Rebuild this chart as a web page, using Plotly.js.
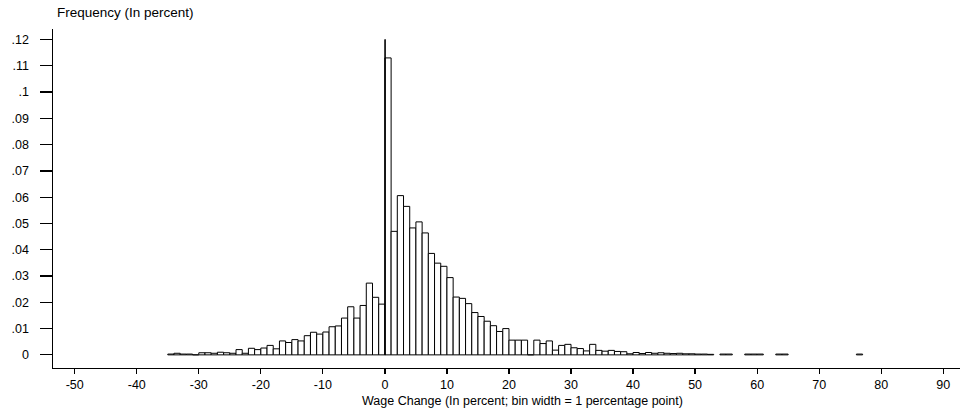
<!DOCTYPE html>
<html>
<head>
<meta charset="utf-8">
<script src="https://cdn.plot.ly/plotly-3.0.1.min.js"></script>
<style>html,body{margin:0;padding:0;background:#fff;}#chart{width:960px;height:410px;}</style>
</head>
<body>
<div id="chart"></div>
<script>
// Left edges of 1-point bins (wage change, percent)
const binStart = [-35,-34,-33,-32,-31,-30,-29,-28,-27,-26,-25,-24,-23,-22,-21,-20,-19,-18,-17,-16,-15,-14,-13,-12,-11,-10,-9,-8,-7,-6,-5,-4,-3,-2,-1,
  0,1,2,3,4,5,6,7,8,9,10,11,12,13,14,15,16,17,18,19,20,21,22,23,24,25,26,27,28,29,30,31,32,33,34,35,36,37,38,39,40,41,42,43,44,45,46,47,48,49,50,51,52,
  54,55,58,59,60,63,64,76];
// Frequency of each bin
const frequency = [0.0003,0.0006,0.0003,0.0003,0,0.0008,0.0008,0.0006,0.001,0.0008,0.0006,0.002,0.0006,0.0025,0.002,0.0026,0.0036,0.0023,0.0053,0.0047,0.0058,0.0053,0.0073,0.0086,0.0079,0.0087,0.0107,0.011,0.014,0.0183,0.014,0.0188,0.0273,0.0219,0.0193,
  0.113,0.047,0.0606,0.0565,0.0483,0.0506,0.0464,0.0386,0.0349,0.0337,0.0294,0.022,0.0215,0.0195,0.0161,0.0146,0.0128,0.0111,0.0089,0.01,0.0056,0.0056,0.0056,0,0.0056,0.0043,0.0053,0.0018,0.0036,0.004,0.0027,0.0024,0.0015,0.004,0.0017,0.0014,0.0017,0.0013,0.0012,0.0004,0.0009,0.0005,0.0009,0.0006,0.0008,0.0006,0.0005,0.0006,0.0004,0.0004,0.0003,0.0003,0.0002,
  0.0003,0.0003,0.0003,0.0003,0.0003,0.0003,0.0003,0.0003];
// Spike of exactly-zero wage changes
const spikeX = [0];
const spikeY = [0.12];

const binWidth = 1;
const yTicks = [0,0.01,0.02,0.03,0.04,0.05,0.06,0.07,0.08,0.09,0.1,0.11,0.12];
const yTickText = ['0','.01','.02','.03','.04','.05','.06','.07','.08','.09','.1','.11','.12'];
const xTicks = [-50,-40,-30,-20,-10,0,10,20,30,40,50,60,70,80,90];

const font = 'Liberation Sans, Arial, Helvetica, sans-serif';

const traces = [
  {
    type: 'bar',
    x: binStart,
    y: frequency,
    width: binStart.map(() => binWidth),
    offset: 0,
    marker: {color: '#ffffff', line: {color: '#000000', width: 1}},
    hoverinfo: 'x+y'
  },
  {
    type: 'bar',
    x: spikeX,
    y: spikeY,
    width: [0.05],
    offset: 0,
    marker: {color: '#000000', line: {color: '#000000', width: 1}},
    hoverinfo: 'x+y'
  }
];

const layout = {
  width: 960,
  height: 410,
  margin: {l: 53, r: 0, t: 29, b: 42},
  paper_bgcolor: '#ffffff',
  plot_bgcolor: '#ffffff',
  showlegend: false,
  barmode: 'overlay',
  bargap: 0,
  font: {family: font, color: '#000', size: 12.5},
  xaxis: {
    range: [-53.5, 92.7],
    tickvals: xTicks,
    ticktext: xTicks.map(String),
    ticks: 'outside',
    ticklen: 5,
    tickwidth: 1.2,
    tickcolor: '#000',
    showline: true,
    linecolor: '#000',
    linewidth: 1.2,
    showgrid: false,
    zeroline: false,
    tickfont: {family: font, size: 12.5, color: '#000'}
  },
  yaxis: {
    range: [-0.005, 0.124],
    tickvals: yTicks,
    ticktext: yTickText,
    ticks: 'outside',
    ticklen: 12,
    tickwidth: 1.2,
    tickcolor: '#000',
    ticklabelstandoff: 8,
    showline: true,
    linecolor: '#000',
    linewidth: 1.5,
    showgrid: false,
    zeroline: false,
    tickfont: {family: font, size: 12.5, color: '#000'}
  },
  annotations: [
    {
      text: 'Frequency (In percent)',
      xref: 'paper', yref: 'paper',
      x: 2/907, y: 1 + 17/339,
      xanchor: 'left', yanchor: 'middle',
      showarrow: false,
      font: {family: font, size: 13.5, color: '#000'}
    },
    {
      text: 'Wage Change (In percent; bin width = 1 percentage point)',
      xref: 'paper', yref: 'paper',
      x: (522 - 53) / 907, y: -33/339,
      xanchor: 'center', yanchor: 'middle',
      showarrow: false,
      font: {family: font, size: 12.5, color: '#000'}
    }
  ]
};

Plotly.newPlot('chart', traces, layout, {displayModeBar: false, staticPlot: true});
</script>
</body>
</html>
